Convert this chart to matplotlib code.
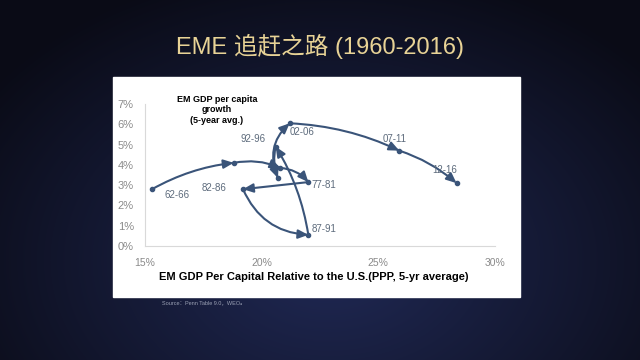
import numpy as np
import matplotlib.pyplot as plt
from matplotlib.patches import Rectangle

plt.rcParams['font.family'] = ['Liberation Sans', 'Noto Sans CJK SC', 'DejaVu Sans']

# EM GDP per capita relative to US (%), EM GDP per capita growth (%)
periods = ['62-66', '67-71', '72-76', '77-81', '82-86', '87-91',
           '92-96', '97-01', '02-06', '07-11', '12-16']
rel_gdp = [15.3, 18.8, 20.8, 22.0, 19.2, 22.0, 20.6, 20.7, 21.2, 25.9, 28.35]
growth = [2.8, 4.1, 3.85, 3.15, 2.8, 0.55, 4.9, 3.35, 6.05, 4.7, 3.1]
shown = ['62-66', '77-81', '82-86', '87-91', '92-96', '02-06', '07-11', '12-16']
label_offsets = {'62-66': (25, -6, 'center'), '77-81': (3, -3, 'left'),
                 '82-86': (-29, 1, 'center'), '87-91': (3, 6, 'left'),
                 '92-96': (-23, 8, 'center'), '02-06': (12, -9, 'center'),
                 '07-11': (-5, 12, 'center'), '12-16': (-12, 13, 'center')}
# bend of each connecting segment
curvature = [-0.1, -0.15, -0.2, 0.0, 0.3, 0.1, 0.15, -0.35, -0.1, -0.1]

line_color = '#3a5479'

fig = plt.figure(figsize=(6.4, 3.6), dpi=100)

# dark radial background
bg = fig.add_axes([0, 0, 1, 1], zorder=-10)
yy, xx = np.mgrid[0:360, 0:640]
r = np.sqrt(((xx - 330) / 420.0) ** 2 + ((yy - 260) / 300.0) ** 2)
r = np.clip(r, 0, 1)
c0 = np.array([0x20, 0x29, 0x55]) / 255.0
c1 = np.array([0x0a, 0x0b, 0x16]) / 255.0
img = c0[None, None, :] * (1 - r[..., None]) + c1[None, None, :] * r[..., None]
bg.imshow(img, aspect='auto', extent=[0, 640, 360, 0])
bg.axis('off')

fig.patches.append(Rectangle((113 / 640, 63 / 360), 407 / 640, 220 / 360,
                             transform=fig.transFigure, color='white', zorder=-5))

fig.text(0.5, 0.872, 'EME 追赶之路 (1960-2016)', ha='center', va='center',
         fontsize=17, color='#e8d396')

ax = fig.add_axes([145 / 640, 114 / 360, 350 / 640, 142 / 360])
ax.set_facecolor('white')
ax.set_xlim(15, 30)
ax.set_ylim(0, 7)
ax.set_xticks([15, 20, 25, 30])
ax.set_xticklabels(['15%', '20%', '25%', '30%'])
ax.set_yticks(range(8))
ax.set_yticklabels([f'{v}%' for v in range(8)])
ax.tick_params(length=0, labelcolor='#8a8a8a', labelsize=8)
ax.tick_params(axis='x', pad=9, labelsize=7.5)
ax.tick_params(axis='y', pad=8)
for s in ['top', 'right']:
    ax.spines[s].set_visible(False)
for s in ['left', 'bottom']:
    ax.spines[s].set_color('#d9d9d9')
    ax.spines[s].set_linewidth(0.8)

# curved arrow for each step of the path
for i in range(len(periods) - 1):
    ax.annotate('', xy=(rel_gdp[i + 1], growth[i + 1]), xytext=(rel_gdp[i], growth[i]),
                arrowprops=dict(arrowstyle='-|>,head_length=0.5,head_width=0.22',
                                mutation_scale=12, color=line_color, lw=1.5,
                                shrinkA=0, shrinkB=0,
                                connectionstyle=f'arc3,rad={curvature[i]}'),
                zorder=3)
ax.plot(rel_gdp, growth, 'o', ms=3, color=line_color, zorder=4)

for p, xv, yv in zip(periods, rel_gdp, growth):
    if p in shown:
        dx, dy, ha = label_offsets[p]
        ax.annotate(p, (xv, yv), xytext=(dx, dy), textcoords='offset pixels',
                    ha=ha, va='center', fontsize=7, color='#5d6b7c', zorder=5)

fig.text(217 / 640, 250 / 360, 'EM GDP per capita\ngrowth\n(5-year avg.)', ha='center',
         va='center', fontsize=6.5, fontweight='bold', color='black', linespacing=1.15)

fig.text(314 / 640, 83 / 360,
         'EM GDP Per Capital Relative to the U.S.(PPP, 5-yr average)',
         ha='center', va='center', fontsize=8, fontweight='bold', color='black')

fig.text(162 / 640, 57 / 360, 'Source：Penn Table 9.0，WEO。', ha='left', va='center',
         fontsize=4, color='#9aa0b4')

fig.savefig('out.png', dpi=100)
